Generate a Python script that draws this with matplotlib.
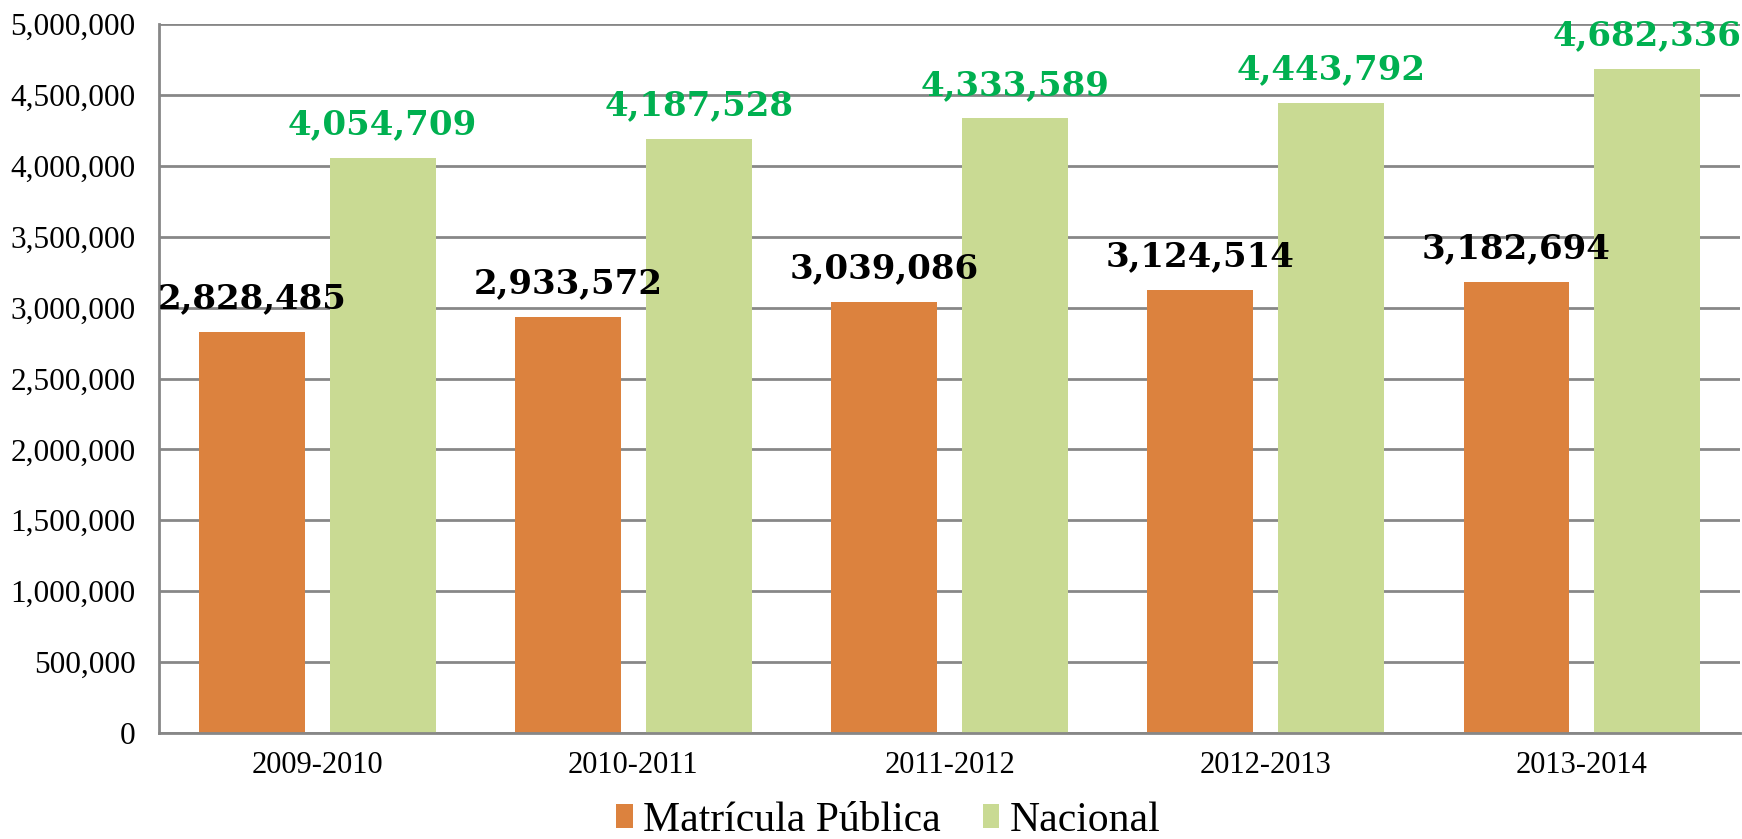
import matplotlib
matplotlib.use("Agg")
import matplotlib.pyplot as plt
import matplotlib.ticker
import numpy


# Chart data.
periods = ["2009-2010", "2010-2011", "2011-2012", "2012-2013", "2013-2014"]
matricula_publica = [2828485, 2933572, 3039086, 3124514, 3182694]
nacional = [4054709, 4187528, 4333589, 4443792, 4682336]
series_names = ["Matrícula Pública", "Nacional"]

orange = "#DC823E"
green = "#C9DA93"
label_green = "#00B050"
grid_gray = "#878787"

# Figure and axes.
fig = plt.figure(figsize=(17.42, 8.39), dpi=100)
ax = fig.add_axes([0.0913, 0.1263, 0.9076, 0.8451])

x = numpy.arange(len(periods))
width = 0.335
offset = 0.207
bars_pub = ax.bar(x - offset, matricula_publica, width, color=orange, label=series_names[0], zorder=2)
bars_nac = ax.bar(x + offset, nacional, width, color=green, label=series_names[1], zorder=2)

# Value labels above bars.
for rect, value in zip(bars_pub, matricula_publica):
	ax.annotate("{:,}".format(value), (rect.get_x() + rect.get_width() / 2, value),
			xytext=(0, 12), textcoords="offset points", ha="center", va="bottom",
			fontsize=24.5, fontweight="heavy", family="DejaVu Serif", color="black", zorder=5)
for rect, value in zip(bars_nac, nacional):
	ax.annotate("{:,}".format(value), (rect.get_x() + rect.get_width() / 2, value),
			xytext=(0, 12), textcoords="offset points", ha="center", va="bottom",
			fontsize=24.5, fontweight="heavy", family="DejaVu Serif", color=label_green, zorder=5,
			annotation_clip=False)

# Axes, ticks and grid.
ax.set_xlim(-0.5, len(periods) - 0.5)
ax.set_ylim(0, 5000000)
ax.yaxis.set_major_locator(matplotlib.ticker.MultipleLocator(500000))
ax.yaxis.set_major_formatter(matplotlib.ticker.FuncFormatter(lambda v, p: "{:,}".format(int(v))))
ax.set_xticks(x)
ax.set_xticklabels(periods, family="Liberation Serif", fontsize=22)
for lab in ax.get_yticklabels():
	lab.set_family("Liberation Serif")
	lab.set_fontsize(22.5)
ax.tick_params(axis="y", length=0, pad=17)
ax.tick_params(axis="x", length=0, pad=13)
ax.grid(axis="y", color=grid_gray, linewidth=2, zorder=0)
for side in ["top", "right"]:
	ax.spines[side].set_visible(False)
for side in ["left", "bottom"]:
	ax.spines[side].set_color(grid_gray)
	ax.spines[side].set_linewidth(2)
	ax.spines[side].set_zorder(3)

# Legend at bottom.
fig.legend(loc="lower center", bbox_to_anchor=(0.51, -0.046), ncol=2, frameon=False,
		prop={"family": "Liberation Serif", "size": 30}, handlelength=0.4, handleheight=0.5,
		handletextpad=0.25, columnspacing=1.0)

fig.savefig("out.png", dpi=100)
